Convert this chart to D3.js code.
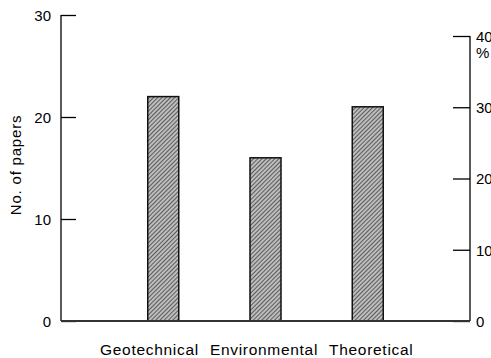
<!DOCTYPE html>
<html>
<head>
<meta charset="utf-8">
<script src="https://cdn.jsdelivr.net/npm/d3@7"></script>
<style>
  body { margin: 0; background: #fff; }
  svg { display: block; font-family: "Liberation Sans", Arial, sans-serif; }
</style>
</head>
<body>
<script>
// data
var categories = ["Geotechnical", "Environmental", "Theoretical"];
var papers = [22, 16, 21];
var leftTicks = [0, 10, 20, 30];
var rightTicks = [0, 10, 20, 30, 40];

var width = 491, height = 358;
var x0 = 61, x1 = 470, yBase = 321;

var svg = d3.select("body").append("svg")
    .attr("width", width).attr("height", height);

var defs = svg.append("defs");
var pat = defs.append("pattern")
    .attr("id", "hatch")
    .attr("patternUnits", "userSpaceOnUse")
    .attr("width", 3).attr("height", 3)
    .attr("patternTransform", "rotate(45)");
pat.append("rect").attr("width", 3).attr("height", 3).attr("fill", "#bdbdbd");
pat.append("line").attr("x1", 0).attr("y1", 0).attr("x2", 0).attr("y2", 3)
    .attr("stroke", "#3a3a3a").attr("stroke-width", 1.5);

var x = d3.scaleLinear().domain([0, 4]).range([x0, x1]);
var yLeft = d3.scaleLinear().domain([0, 30]).range([yBase, 15]);
var yRight = d3.scaleLinear().domain([0, 40]).range([yBase, 36]);

// bars
var barW = 31;
svg.selectAll(".bar")
    .data(papers)
    .enter().append("rect")
    .attr("class", "bar")
    .attr("x", function(d, i) { return x(i + 1) - barW / 2; })
    .attr("y", function(d) { return yLeft(d); })
    .attr("width", barW)
    .attr("height", function(d) { return yBase - yLeft(d); })
    .attr("fill", "url(#hatch)")
    .attr("stroke", "#111")
    .attr("stroke-width", 1.5);

// left axis
var left = svg.append("g").attr("transform", "translate(" + x0 + ",0)")
    .call(d3.axisRight(yLeft).tickValues(leftTicks).tickSize(15).tickFormat(d3.format("d")));
left.select(".domain").attr("stroke", "#000").attr("stroke-width", 1.3).attr("d", "M0," + yLeft(30) + "V" + yBase);
left.selectAll(".tick line").attr("stroke", "#000").attr("stroke-width", 1.3);
left.selectAll(".tick text")
    .attr("x", -10).attr("dy", "0.35em")
    .attr("text-anchor", "end")
    .attr("font-size", 15).attr("fill", "#000");

// right axis (labels run off the page edge, as in the original)
var right = svg.append("g").attr("transform", "translate(" + x1 + ",0)")
    .call(d3.axisLeft(yRight).tickValues(rightTicks).tickSize(17).tickFormat(d3.format("d")));
right.select(".domain").attr("stroke", "#000").attr("stroke-width", 1.3).attr("d", "M0," + yRight(40) + "V" + yBase);
right.selectAll(".tick line").attr("stroke", "#000").attr("stroke-width", 1.3);
right.selectAll(".tick text")
    .attr("x", 6).attr("dy", "0.35em")
    .attr("text-anchor", "start")
    .attr("font-size", 15).attr("fill", "#000");
right.append("text")
    .attr("x", 6).attr("y", yRight(40) + 22)
    .attr("text-anchor", "start")
    .attr("font-size", 15).attr("fill", "#000")
    .text("%");

// baseline
svg.append("line")
    .attr("x1", x0).attr("x2", x1)
    .attr("y1", yBase).attr("y2", yBase)
    .attr("stroke", "#333").attr("stroke-width", 2);

// category labels, set as one line like the original
var cat = svg.append("text")
    .attr("x", 100)
    .attr("y", 355)
    .attr("font-size", 15.5)
    .attr("letter-spacing", 0.7)
    .attr("fill", "#000");
cat.selectAll("tspan")
    .data(categories)
    .enter().append("tspan")
    .attr("dx", function(d, i) { return i == 0 ? 0 : 11; })
    .text(function(d) { return d; });

// y label
svg.append("text")
    .attr("transform", "translate(21," + 165 + ") rotate(-90)")
    .attr("text-anchor", "middle")
    .attr("font-size", 15)
    .attr("letter-spacing", 0.8)
    .attr("fill", "#000")
    .text("No. of papers");
</script>
</body>
</html>
